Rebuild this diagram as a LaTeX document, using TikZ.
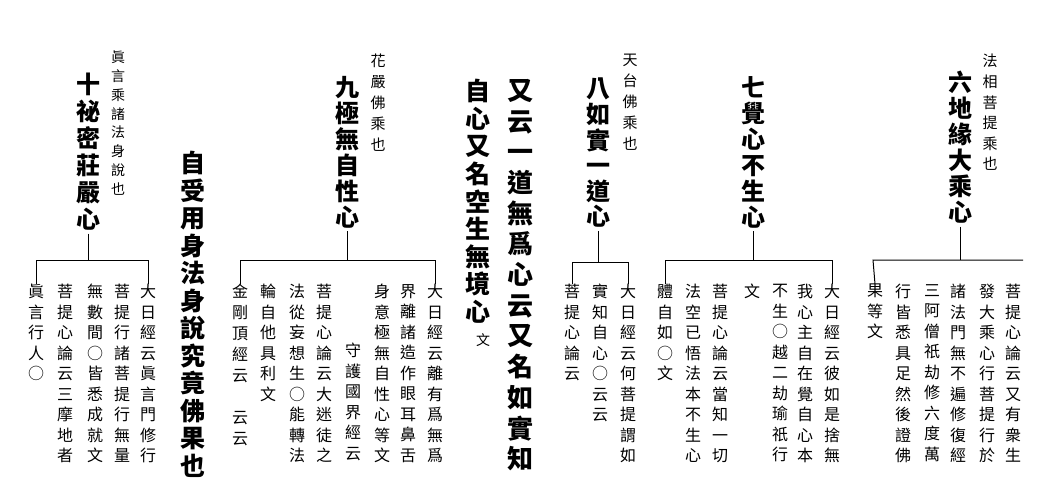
\documentclass[tikz,border=0pt]{standalone}
\usepackage{fontspec}
\setmainfont{Noto Sans CJK TC}
\makeatletter
\newcommand\vtxt[3]{\fontsize{#2}{#2}\selectfont\vbox{\baselineskip=#1pt\lineskiplimit=-100pt\lineskip=0pt
 \@tfor\vt@c:=#3\do{\hbox to #2pt{\hss\vt@c\hss}}}}
\makeatother
\tikzset{vt/.style={inner sep=0pt,anchor=north},tt/.style={vt,font=\bfseries},line/.style={line width=1pt}}
\newcommand\leaf[4]{\node[vt] (#1) at (#2,284) {\vtxt{20.5}{16}{#4}};}
\begin{document}
\begin{tikzpicture}[x=1pt,y=-1pt]
\useasboundingbox[fill=white] (0,0) rectangle (1042,483);
% group 6
\node[vt] (n6) at (990,54) {\vtxt{20.6}{15}{法相菩提乘也}};
\node[tt] (t6) at (960,71) {\vtxt{26}{24}{六地緣大乘心}};
\leaf{a61}{1013}{0}{菩提心論云又有衆生}
\leaf{a62}{987}{0}{發大乘心行菩提行於}
\leaf{a63}{958}{0}{諸法門無不遍修復經}
\leaf{a64}{932}{0}{三阿僧祇劫修六度萬}
\leaf{a65}{903}{0}{行皆悉具足然後證佛}
\leaf{a66}{875}{0}{果等文}
\coordinate (b6) at (960,260);
\draw[line] (t6.south)++(0,3) -- (b6);
\draw[line] (a66.north) -- (873,260) -- (1023,260);
% group 7
\node[tt] (t7) at (753,76) {\vtxt{26}{24}{七覺心不生心}};
\leaf{a71}{832}{0}{大日經云彼如是捨無}
\leaf{a72}{805}{0}{我心主自在覺自心本}
\leaf{a73}{780}{0}{不生○越二劫瑜祇行}
\leaf{a74}{752}{0}{文}
\leaf{a75}{720}{0}{菩提心論云當知一切}
\leaf{a76}{693}{0}{法空已悟法本不生心}
\leaf{a77}{665}{0}{體自如○文}
\coordinate (b7) at (753,260);
\draw[line] (t7.south)++(0,3) -- (b7);
\draw[line] (a77.north) -- (665,260) -- (832,260) -- (a71.north);
% group 8
\node[vt] (n8) at (630,54) {\vtxt{21}{15}{天台佛乘也}};
\node[tt] (t8) at (598,78) {\vtxt{25.6}{24}{八如實一道心}};
\leaf{a81}{628}{0}{大日經云何菩提謂如}
\leaf{a82}{600}{0}{實知自心○云云}
\leaf{a83}{572}{0}{菩提心論云}
\coordinate (b8) at (598,262);
\draw[line] (t8.south)++(0,3) -- (b8);
\draw[line] (a83.north) -- (572,262) -- (628,262) -- (a81.north);
% middle columns
\node[tt] (m1) at (520,79) {\vtxt{30.7}{26}{又云一道無爲心云又名如實知}};
\node[tt] (m2) at (478,79) {\vtxt{27.6}{25}{自心又名空生無境心}};
\node[inner sep=0pt,font=\fontsize{14}{14}\selectfont] (m3) at (483,340) {文};
% group 9
\node[vt] (n9) at (378,54) {\vtxt{21}{15}{花嚴佛乘也}};
\node[tt] (t9) at (347,76) {\vtxt{26}{24}{九極無自性心}};
\leaf{a91}{435}{0}{大日經云離有爲無爲}
\leaf{a92}{408}{0}{界離諸造作眼耳鼻舌}
\leaf{a93}{382}{0}{身意極無自性心等文}
\node[vt] (a94) at (353,343) {\vtxt{20.5}{16}{守護國界經云}};
\leaf{a95}{324}{0}{菩提心論云大迷徒之}
\leaf{a96}{297}{0}{法從妄想生○能轉法}
\leaf{a97}{268}{0}{輪自他具利文}
\node[vt] (a98) at (240,284) {\vtxt{21}{16}{金剛頂經云　云云}};
\coordinate (b9) at (347,260);
\draw[line] (t9.south)++(0,3) -- (b9);
\draw[line] (a98.north) -- (240,260) -- (435,260) -- (a91.north);
% group 10
\node[vt] (n10) at (118,51) {\vtxt{18.75}{14}{眞言乘諸法身說也}};
\node[tt] (t10) at (88,73) {\vtxt{27}{24}{十祕密莊嚴心}};
\leaf{a101}{148}{0}{大日經云眞言門修行}
\leaf{a102}{122}{0}{菩提行諸菩提行無量}
\leaf{a103}{95}{0}{無數間○皆悉成就文}
\leaf{a104}{65}{0}{菩提心論云三摩地者}
\leaf{a105}{36}{0}{眞言行人○}
\coordinate (b10) at (88,260);
\draw[line] (t10.south)++(0,3) -- (b10);
\draw[line] (a105.north) -- (36,260) -- (148,260) -- (a101.north);
\node[tt] (m4) at (193,151) {\vtxt{27.5}{25}{自受用身法身說究竟佛果也}};
\end{tikzpicture}
\end{document}
